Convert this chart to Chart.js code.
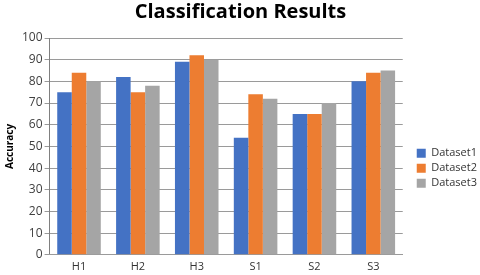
<!DOCTYPE html>
<html>
<head>
<meta charset="utf-8">
<script src="https://cdn.jsdelivr.net/npm/chart.js@4.4.1/dist/chart.umd.min.js"></script>
<style>
  html, body { margin: 0; padding: 0; background: #fff; }
  #wrap { width: 480px; height: 275px; position: relative; }
</style>
</head>
<body>
<div id="wrap"><canvas id="chart"></canvas></div>
<script>
// data
const categories = ['H1', 'H2', 'H3', 'S1', 'S2', 'S3'];
const dataset1 = [75, 82, 89, 54, 65, 80];
const dataset2 = [84, 75, 92, 74, 65, 84];
const dataset3 = [80, 78, 90, 72, 70, 85];
const seriesNames = ['Dataset1', 'Dataset2', 'Dataset3'];
const yTicks = [0, 10, 20, 30, 40, 50, 60, 70, 80, 90, 100];

const blue = '#4472C4';
const orange = '#ED7D31';
const gray = '#A5A5A5';
const font = "'Open Sans', sans-serif";

Chart.defaults.font.family = font;
Chart.defaults.color = '#404040';

function bar(label, data, color) {
  return {
    label, data,
    backgroundColor: color,
    borderWidth: 0,
    barPercentage: 1.0,
    categoryPercentage: 0.74
  };
}

// push the legend a bit to the right of the plot, like the original
const legendShift = {
  id: 'legendShift',
  afterLayout(chart) {
    const lg = chart.legend;
    if (lg) { lg.left += 10; lg.right += 10; }
  }
};

new Chart(document.getElementById('chart'), {
  type: 'bar',
  data: {
    labels: categories,
    datasets: [
      bar(seriesNames[0], dataset1, blue),
      bar(seriesNames[1], dataset2, orange),
      bar(seriesNames[2], dataset3, gray)
    ]
  },
  plugins: [legendShift],
  options: {
    responsive: true,
    maintainAspectRatio: false,
    animation: false,
    layout: { padding: { left: 4, right: 3, top: 0, bottom: -3 } },
    plugins: {
      title: {
        display: true,
        text: 'Classification Results',
        color: '#000',
        font: { size: 20, weight: 'bold', family: font },
        padding: { top: 0, bottom: 14 }
      },
      legend: {
        position: 'right',
        align: 'center',
        title: { display: true, text: ' ', padding: { top: 22, bottom: 22 }, font: { size: 12 } },
        labels: {
          boxWidth: 9,
          boxHeight: 9,
          padding: 4,
          color: '#333',
          font: { size: 11, family: font }
        }
      },
      tooltip: { enabled: false }
    },
    scales: {
      y: {
        min: 0,
        max: 100,
        afterBuildTicks: axis => { axis.ticks = yTicks.map(v => ({ value: v })); },
        title: {
          display: true,
          text: 'Accuracy',
          color: '#000',
          font: { size: 10, weight: 'bold', family: font },
          padding: { top: 0, bottom: 4 }
        },
        ticks: { color: '#404040', font: { size: 12, family: font }, padding: 2 },
        grid: { color: '#9a9a9a', lineWidth: 1, tickLength: 5 },
        border: { color: '#808080', width: 1 }
      },
      x: {
        ticks: { color: '#333', font: { size: 11, family: font }, padding: 5 },
        grid: {
          offset: true,
          tickLength: 0,
          color: ctx => ctx.index === categories.length ? '#d9d9d9' : 'rgba(0,0,0,0)'
        },
        border: { color: '#9a9a9a', width: 1 }
      }
    }
  }
});
</script>
</body>
</html>
